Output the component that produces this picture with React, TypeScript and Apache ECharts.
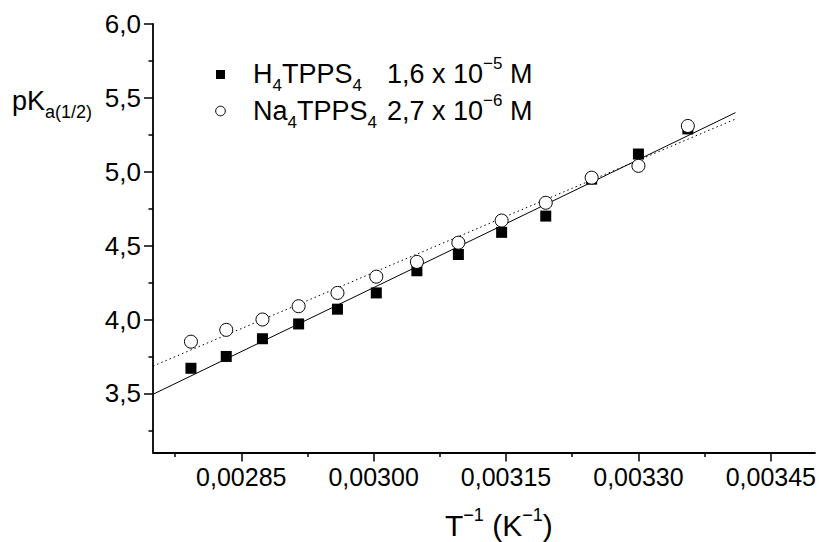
import React, { useEffect, useRef } from 'react';
import * as echarts from 'echarts';

// 1/T values (K^-1)
const invT = [0.002793, 0.002833, 0.002874, 0.002915, 0.002959, 0.003003, 0.003049, 0.003096, 0.003145, 0.003195, 0.003247, 0.0033, 0.003356];
const pKaH4TPPS4 = [3.67, 3.75, 3.87, 3.97, 4.07, 4.18, 4.33, 4.44, 4.59, 4.7, 4.95, 5.12, 5.29];
const pKaNa4TPPS4 = [3.85, 3.93, 4.0, 4.09, 4.18, 4.29, 4.39, 4.52, 4.67, 4.79, 4.96, 5.04, 5.31];
// linear fit end points
const fitX = [0.00275, 0.00341];
const fitH4 = [3.494, 5.4];
const fitNa4 = [3.685, 5.357];

const xMajor = [0.00285, 0.003, 0.00315, 0.0033, 0.00345];
const xMinor = [0.002775, 0.002925, 0.003075, 0.003225, 0.003375];
const yMajor = [3.5, 4.0, 4.5, 5.0, 5.5, 6.0];
const yMinor = [3.25, 3.75, 4.25, 4.75, 5.25, 5.75];

const FONT = '"Liberation Sans", Arial, sans-serif';

let measureCtx: CanvasRenderingContext2D | null = null;
function textW(t: string, size: number) {
  if (!measureCtx) measureCtx = document.createElement('canvas').getContext('2d');
  measureCtx!.font = `${size}px ${FONT}`;
  return measureCtx!.measureText(t).width;
}

type Part = [string, number, number];
function runs(x0: number, yc: number, parts: Part[]) {
  const els: any[] = [];
  let x = x0;
  for (const [t, size, dy] of parts) {
    els.push({
      type: 'text',
      x,
      y: yc + dy,
      silent: true,
      style: {
        text: t,
        font: `${size}px ${FONT}`,
        fill: '#000',
        align: 'left',
        verticalAlign: 'middle',
        textAlign: 'left',
        textVerticalAlign: 'middle',
      },
    });
    x += textW(t, size);
  }
  return els;
}

export default function App() {
  const ref = useRef<HTMLDivElement>(null);
  useEffect(() => {
    const chart = echarts.init(ref.current!, null, { renderer: 'svg' });
    const axisLine = { show: true, lineStyle: { color: '#000', width: 1.8 } };
    const fmtX = (v: number) => v.toFixed(5).replace('.', ',');
    const fmtY = (v: number) => v.toFixed(1).replace('.', ',');

    const M = 27, S = 17;
    const graphics: any[] = [
      ...runs(12, 101, [['pK', 27, 0], ['a(1/2)', 18, 11]]),
      ...runs(445, 525, [['T', 30, 0], ['\u22121', 18, -10], [' (K', 30, 0], ['\u22121', 18, -10], [')', 30, 0]]),
      ...runs(253, 74, [['H', M, 0], ['4', S, 11], ['TPPS', M, 0], ['4', S, 11]]),
      ...runs(387, 74, [['1,6 x 10', M, 0], ['\u22125', S, -11], [' M', M, 0]]),
      ...runs(253, 111, [['Na', M, 0], ['4', S, 11], ['TPPS', M, 0], ['4', S, 11]]),
      ...runs(387, 111, [['2,7 x 10', M, 0], ['\u22126', S, -11], [' M', M, 0]]),
      { type: 'rect', shape: { x: 216, y: 70, width: 9, height: 9 }, style: { fill: '#000' }, silent: true },
      { type: 'circle', shape: { cx: 220.5, cy: 111, r: 4.8 }, style: { fill: '#fff', stroke: '#000', lineWidth: 1 }, silent: true },
    ];

    chart.setOption({
      animation: false,
      backgroundColor: '#fff',
      grid: { left: 153, right: 3, top: 24, bottom: 89.5, containLabel: false },
      xAxis: [
        {
          type: 'value', min: 0.00275, max: 0.0035, position: 'bottom',
          axisLine,
          splitLine: { show: false },
          axisTick: { show: true, inside: false, length: 9, lineStyle: { color: '#000', width: 1.5 }, customValues: xMajor },
          axisLabel: { show: true, customValues: xMajor, formatter: fmtX, color: '#000', fontSize: 25, fontFamily: FONT, margin: 12 },
        },
        {
          type: 'value', min: 0.00275, max: 0.0035, position: 'bottom', offset: 0,
          axisLine: { show: false },
          splitLine: { show: false },
          axisTick: { show: true, inside: false, length: 4.5, lineStyle: { color: '#000', width: 1.5 }, customValues: xMinor },
          axisLabel: { show: false },
        },
      ],
      yAxis: [
        {
          type: 'value', min: 3.1, max: 6.0, position: 'left',
          axisLine,
          splitLine: { show: false },
          axisTick: { show: true, inside: false, length: 9, lineStyle: { color: '#000', width: 1.5 }, customValues: yMajor },
          axisLabel: { show: true, customValues: yMajor, formatter: fmtY, color: '#000', fontSize: 26, fontFamily: FONT, margin: 12 },
        },
        {
          type: 'value', min: 3.1, max: 6.0, position: 'left', offset: 0,
          axisLine: { show: false },
          splitLine: { show: false },
          axisTick: { show: true, inside: false, length: 4.5, lineStyle: { color: '#000', width: 1.5 }, customValues: yMinor },
          axisLabel: { show: false },
        },
      ],
      graphic: graphics,
      series: [
        {
          type: 'line', xAxisIndex: 0, yAxisIndex: 0, showSymbol: false, symbol: 'none', silent: true, z: 1,
          data: fitX.map((x, i) => [x, fitH4[i]]),
          lineStyle: { color: '#000', width: 1, type: 'solid' },
        },
        {
          type: 'line', xAxisIndex: 0, yAxisIndex: 0, showSymbol: false, symbol: 'none', silent: true, z: 1,
          data: fitX.map((x, i) => [x, fitNa4[i]]),
          lineStyle: { color: '#000', width: 1, type: [1.5, 3] },
        },
        {
          type: 'scatter', xAxisIndex: 0, yAxisIndex: 0, symbol: 'rect', symbolSize: 11, z: 3,
          data: invT.map((x, i) => [x, pKaH4TPPS4[i]]),
          itemStyle: { color: '#000', opacity: 1 },
        },
        {
          type: 'scatter', xAxisIndex: 0, yAxisIndex: 0, symbol: 'circle', symbolSize: 13, z: 4,
          data: invT.map((x, i) => [x, pKaNa4TPPS4[i]]),
          itemStyle: { color: '#fff', borderColor: '#000', borderWidth: 1, opacity: 1 },
        },
      ],
    });
    return () => chart.dispose();
  }, []);
  return <div ref={ref} style={{ width: 819, height: 542, position: 'absolute', left: 0, top: 0, background: '#fff' }} />;
}
